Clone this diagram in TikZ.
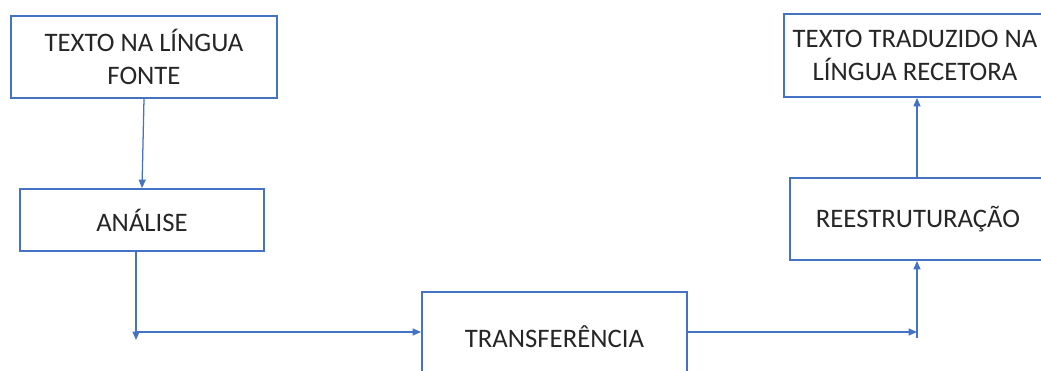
\documentclass[tikz,border=0pt]{standalone}
\usepackage{fontspec}
\setmainfont{Carlito}
\usetikzlibrary{arrows.meta}
\definecolor{boxblue}{HTML}{4472C4}

\begin{document}
\begin{tikzpicture}[x=0.025cm, y=-0.025cm,
    stage/.style={draw=boxblue, line width=1.3pt, text=black!85, align=center,
      inner sep=0pt, font=\fontsize{19}{23.5}\selectfont},
    flow/.style={draw=boxblue, line width=0.9pt, -{Triangle[length=6pt,width=5pt]}}]

    \useasboundingbox (0,0) rectangle (1041,370);
    \clip (0,0) rectangle (1041,370);

    \node[stage, minimum width=6.65cm, minimum height=2.05cm] (fonte) at (144, 57) {TEXTO NA LÍNGUA\\FONTE};
    \node[stage, minimum width=6.1cm, minimum height=1.55cm] (analise) at (142, 220) {ANÁLISE};
    \node[stage, minimum width=6.625cm, minimum height=2.25cm] (transf) at (554.5, 337) {TRANSFERÊNCIA};
    \node[stage, minimum width=6.4cm, minimum height=2.05cm] (reestr) at (918, 219) {REESTRUTURAÇÃO};
    \node[stage, minimum width=6.55cm, minimum height=2.075cm] (traduzido) at (915, 55.5) {TEXTO TRADUZIDO NA\\LÍNGUA RECETORA};

    \coordinate (c1) at (136, 340);
    \coordinate (c2) at (136, 332);
    \coordinate (c3) at (917, 332);
    \coordinate (c4) at (917, 338);

    \draw [flow] (fonte.south) to (analise.north);
    \draw [flow] (analise.south -| c1) to (c1);
    \draw [flow] (c2) to (c2 -| transf.west);
    \draw [flow] (c3 -| transf.east) to (c3);
    \draw [flow] (c4) to (c4 |- reestr.south);
    \draw [flow] (reestr.north -| c4) to (traduzido.south -| c4);

\end{tikzpicture}
\end{document}
